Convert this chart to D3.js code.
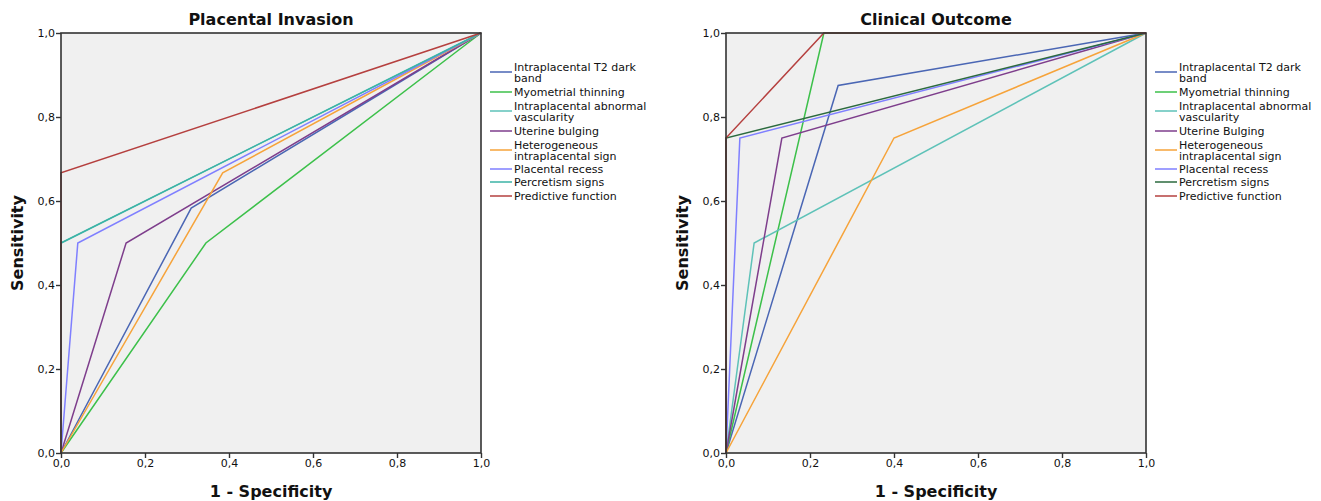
<!DOCTYPE html>
<html><head><meta charset="utf-8">
<script src="https://cdn.jsdelivr.net/npm/d3@7"></script>
<style>
body{margin:0;background:#fff;}
text{font-family:"DejaVu Sans",sans-serif;fill:#111;}
</style></head>
<body><svg id="c" width="1321" height="501"></svg>
<script>
// ---- data ----
const seriesNames = ["Intraplacental T2 dark band","Myometrial thinning","Intraplacental abnormal vascularity","Uterine bulging","Heterogeneous intraplacental sign","Placental recess","Percretism signs","Predictive function"];
const seriesNamesClinical = ["Intraplacental T2 dark band","Myometrial thinning","Intraplacental abnormal vascularity","Uterine Bulging","Heterogeneous intraplacental sign","Placental recess","Percretism signs","Predictive function"];
const legendLines = [["Intraplacental T2 dark","band"],["Myometrial thinning"],["Intraplacental abnormal","vascularity"],null,["Heterogeneous","intraplacental sign"],["Placental recess"],["Percretism signs"],["Predictive function"]];
const colorsInvasion = ["#4a66b4","#3cc04a","#5ec2b8","#7e3e8c","#f6a33a","#7f7fff","#3bb3a6","#b5403f"];
const colorsClinical = ["#4a66b4","#3cc04a","#5ec2b8","#7e3e8c","#f6a33a","#7f7fff","#2b6a3e","#b5403f"];
// Placental Invasion: 1-specificity (x) and sensitivity (y)
const invasionX = [[0,0.31,1],[0,0.345,1],[0,0,1],[0,0.155,1],[0,0.385,1],[0,0.04,1],[0,0,1],[0,0,1]];
const invasionY = [[0,0.583,1],[0,0.5,1],[0,0.5,1],[0,0.5,1],[0,0.667,1],[0,0.5,1],[0,0.5,1],[0,0.667,1]];
// Clinical Outcome
const clinicalX = [[0,0.267,1],[0,0.233,1],[0,0.067,1],[0,0.133,1],[0,0.4,1],[0,0.033,1],[0,0,1],[0,0,0.233,1]];
const clinicalY = [[0,0.875,1],[0,1,1],[0,0.5,1],[0,0.75,1],[0,0.75,1],[0,0.75,1],[0,0.75,1],[0,0.75,1,1]];
const tickValues = [0,0.2,0.4,0.6,0.8,1.0];
const tickLabels = ["0,0","0,2","0,4","0,6","0,8","1,0"];

const svg = d3.select("#c");

function panel(title, left, xs, ys, colors, names){
  const top=33, size=420;
  const x = d3.scaleLinear().domain([0,1]).range([left,left+size]);
  const y = d3.scaleLinear().domain([0,1]).range([top+size,top]);
  const g = svg.append("g");
  g.append("rect").attr("x",left).attr("y",top).attr("width",size).attr("height",size)
    .attr("fill","#f0f0f0");
  const line = d3.line().x(d=>x(d[0])).y(d=>y(d[1]));
  xs.forEach((xa,i)=>{
    const pts = xa.map((v,j)=>[v,ys[i][j]]);
    g.append("path").attr("d",line(pts)).attr("fill","none")
      .attr("stroke",colors[i]).attr("stroke-width",1.5).attr("stroke-linejoin","miter");
  });
  g.append("rect").attr("x",left).attr("y",top).attr("width",size).attr("height",size)
    .attr("fill","none").attr("stroke","#333").attr("stroke-width",1.6);
  const fmt = d=>tickLabels[tickValues.indexOf(d)];
  const ax = g.append("g").attr("transform",`translate(0,${top+size})`)
    .call(d3.axisBottom(x).tickValues(tickValues).tickFormat(fmt).tickSize(5).tickSizeOuter(0));
  const ay = g.append("g").attr("transform",`translate(${left},0)`)
    .call(d3.axisLeft(y).tickValues(tickValues).tickFormat(fmt).tickSize(5).tickSizeOuter(0));
  [ax,ay].forEach(a=>{
    a.select(".domain").remove();
    a.selectAll("line").attr("stroke","#333").attr("stroke-width",1.4);
    a.selectAll("text").attr("font-family","DejaVu Sans").attr("font-size",11).attr("fill","#222");
  });
  ax.selectAll("text").attr("dy","0.9em").attr("y",4);
  ay.selectAll("text").attr("x",-6);
  g.append("text").attr("x",left+size/2).attr("y",25).attr("text-anchor","middle")
    .attr("font-size",16).attr("font-weight","bold").text(title);
  g.append("text").attr("x",left+size/2).attr("y",497).attr("text-anchor","middle")
    .attr("font-size",16).attr("font-weight","bold").text("1 - Specificity");
  g.append("text").attr("transform",`translate(${left-38},${top+size/2}) rotate(-90)`)
    .attr("text-anchor","middle").attr("font-size",16).attr("font-weight","bold").text("Sensitivity");
  // legend
  const lx = left+size+9;
  const rowY = [72,92,111,131,150,169,182,196];
  names.forEach((n,i)=>{
    const lines = legendLines[i] || [n];
    g.append("line").attr("x1",lx).attr("x2",lx+22).attr("y1",rowY[i]).attr("y2",rowY[i])
      .attr("stroke",colors[i]).attr("stroke-width",1.5);
    const t = g.append("text").attr("x",lx+24).attr("font-size",11).attr("fill","#111");
    const y0 = lines.length>1 ? rowY[i]-1 : rowY[i]+4;
    lines.forEach((s,k)=>t.append("tspan").attr("x",lx+24).attr("y",y0+k*11).text(s));
  });
}
panel("Placental Invasion",61,invasionX,invasionY,colorsInvasion,seriesNames);
panel("Clinical Outcome",726,clinicalX,clinicalY,colorsClinical,seriesNamesClinical);
</script></body></html>
